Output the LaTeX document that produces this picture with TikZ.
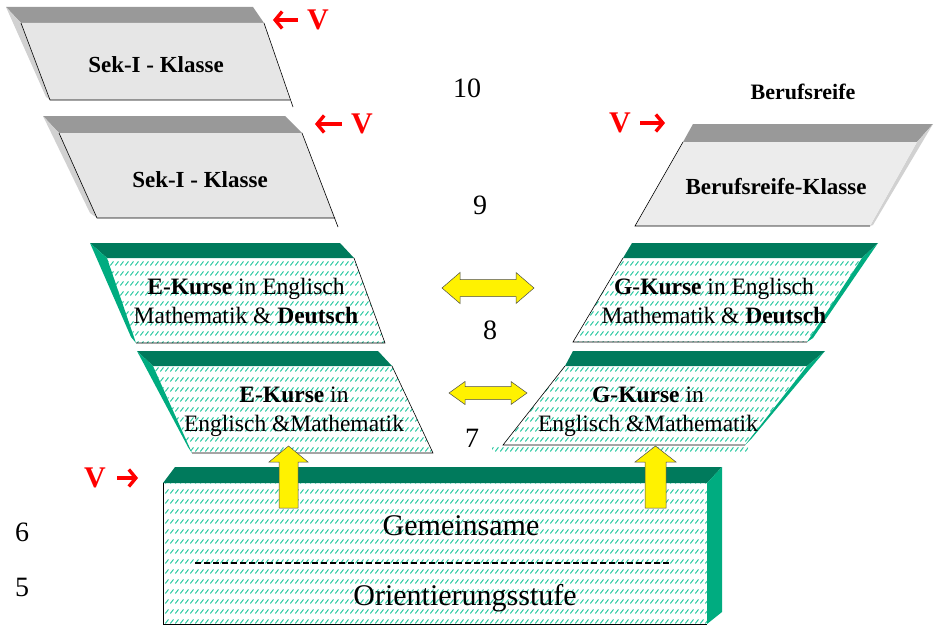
\documentclass[tikz,border=0pt]{standalone}
\usepackage{fontspec}
\setmainfont{Liberation Serif}
\usetikzlibrary{arrows.meta,patterns}

\definecolor{bandgruen}{RGB}{0,122,92}
\definecolor{seitengruen}{RGB}{0,172,128}
\definecolor{rastergruen}{RGB}{40,200,160}
\definecolor{steingrau}{RGB}{230,230,230}
\definecolor{marmorgrau}{RGB}{236,236,236}

\pgfdeclarepatternformonly{kursraster}{\pgfpointorigin}{\pgfqpoint{5pt}{9.6pt}}{\pgfqpoint{5pt}{9.6pt}}{%
  \pgfsetlinewidth{1.1pt}\pgfsetroundcap
  \pgfpathmoveto{\pgfqpoint{0.6pt}{2.8pt}}\pgfpathlineto{\pgfqpoint{4pt}{6.6pt}}\pgfusepath{stroke}}

\tikzset{
  band/.style={fill=bandgruen},
  seite/.style={fill=seitengruen},
  kurs/.style={pattern=kursraster,pattern color=rastergruen},
  grauband/.style={fill=black!40},
  grauseite/.style={fill=black!18},
  stein/.style={fill=steingrau},
  marmor/.style={fill=marmorgrau},
  kante/.style={draw=black,line width=0.6pt},
  gelb/.style={fill=yellow,draw=black!70,line width=0.5pt},
  kurstext/.style={align=center,font=\fontsize{23.5}{29}\selectfont},
  klassentext/.style={font=\bfseries\fontsize{23}{26}\selectfont},
  zahl/.style={font=\fontsize{28}{30}\selectfont},
  vmark/.style={text=red,inner sep=0pt,font=\bfseries\fontsize{30}{30}\selectfont},
  vpfeil/.style={draw=red,line width=3.4pt,-{Straight Barb[length=7pt,width=17pt]}}
}

\begin{document}
\begin{tikzpicture}[x=1pt,y=-1pt]
  \useasboundingbox (0,0) rectangle (937,626);

  % Sek-I oben
  \fill[grauband] (6,7) -- (253,7) -- (264,23) -- (21,23) -- cycle;
  \fill[grauseite] (6,7) -- (21,23) -- (50,100) -- (46,97) -- cycle;
  \fill[stein] (21,23) -- (264,23) -- (290,100) -- (50,100) -- cycle;
  \draw[kante] (21,23) -- (50,100) -- (290,100);
  \draw[kante] (264,23) -- (293,107);
  \node (sek1) at (156,65) [klassentext] {Sek-I - Klasse};

  % Sek-I unten
  \fill[grauband] (43,116) -- (285,116) -- (302,133) -- (59,133) -- cycle;
  \fill[grauseite] (43,116) -- (59,133) -- (97,218) -- (90,213) -- cycle;
  \fill[stein] (59,133) -- (302,133) -- (335,218) -- (97,218) -- cycle;
  \draw[kante] (59,133) -- (97,218) -- (335,218);
  \draw[kante] (302,133) -- (338,227);
  \node (sek2) at (200,180) [klassentext] {Sek-I - Klasse};

  % Berufsreife
  \fill[grauband] (693,124) -- (933,124) -- (917,142) -- (683,142) -- cycle;
  \fill[grauseite] (933,124) -- (917,142) -- (870,226) -- (873,225) -- cycle;
  \fill[marmor] (683,142) -- (917,142) -- (870,226) -- (635,226) -- cycle;
  \draw[kante] (683,142) -- (635,226) -- (870,226);
  \node (br) at (776,187) [klassentext] {Berufsreife-Klasse};
  \node (brtitel) at (803,92) [font=\bfseries\fontsize{22}{24}\selectfont] {Berufsreife};

  % E-Kurse Klasse 8
  \fill[band] (90,243) -- (340,243) -- (354,258) -- (107,258) -- cycle;
  \fill[seite] (90,243) -- (107,258) -- (136,343) -- (131,337) -- cycle;
  \fill[kurs] (107,258) -- (354,258) -- (385,343) -- (136,343) -- cycle;
  \draw[kante] (354,258) -- (385,343) -- (136,343);
  \node (e8) at (246,301) [kurstext] {\textbf{E-Kurse} in Englisch\\Mathematik \& \textbf{Deutsch}};

  % E-Kurse Klasse 7
  \fill[band] (137,351) -- (378,351) -- (392,366) -- (153,366) -- cycle;
  \fill[seite] (137,351) -- (153,366) -- (192,453) -- (188,447) -- cycle;
  \fill[kurs] (153,366) -- (392,366) -- (433,453) -- (192,453) -- cycle;
  \draw[kante] (392,366) -- (433,453) -- (192,453);
  \node (e7) at (294,412) [kurstext] {\textbf{E-Kurse} in\\Englisch \&Mathematik};

  % G-Kurse Klasse 8
  \fill[band] (632,243) -- (878,243) -- (862,258) -- (623,258) -- cycle;
  \fill[seite] (862,258) -- (878,243) -- (813,338) -- (807,342) -- cycle;
  \fill[kurs] (623,258) -- (862,258) -- (807,342) -- (573,342) -- cycle;
  \draw[kante] (623,258) -- (573,342) -- (807,342);
  \node (g8) at (714,301) [kurstext] {\textbf{G-Kurse} in Englisch\\Mathematik \& \textbf{Deutsch}};

  % G-Kurse Klasse 7
  \fill[band] (573,351) -- (825,351) -- (807,366) -- (565,366) -- cycle;
  \fill[seite] (807,366) -- (825,351) -- (752,438) -- (745,445) -- cycle;
  \fill[kurs] (565,366) -- (807,366) -- (745,445) -- (503,445) -- cycle;
  \fill[kurs] (492,446) rectangle (748,453);
  \draw[kante] (565,366) -- (503,445) -- (745,445);
  \node (g7) at (648,412) [kurstext] {\textbf{G-Kurse} in\\Englisch \&Mathematik};

  % Orientierungsstufe
  \fill[band] (163,483) -- (175,467) -- (722,467) -- (707,483) -- cycle;
  \fill[seite] (707,483) -- (722,467) -- (722,612) -- (707,624) -- cycle;
  \fill[kurs] (163,483) rectangle (707,624);
  \draw[kante] (163,483) -- (163,624) -- (707,624);
  \node (gem) at (461,526) [font=\fontsize{30}{32}\selectfont] {Gemeinsame};
  \node (ost) at (465,598) [font=\fontsize{30}{32}\selectfont] {Orientierungsstufe};
  \draw[line width=1.4pt,dash pattern=on 6pt off 3pt] (195,563) -- (670,563);

  % Pfeile
  \draw[gelb] (279,508) -- (279,462) -- (269,462) -- (288.5,446) -- (308,462) -- (298,462) -- (298,508) -- cycle;
  \draw[gelb] (645,508) -- (645,462) -- (635,462) -- (655.5,446) -- (676,462) -- (666,462) -- (666,508) -- cycle;
  \draw[gelb] (442,288) -- (460,272.5) -- (460,279.5) -- (516,279.5) -- (516,272.5) -- (534,288)
    -- (516,303.5) -- (516,296.5) -- (460,296.5) -- (460,303.5) -- cycle;
  \draw[gelb] (449,393) -- (465,381.5) -- (465,386.5) -- (511,386.5) -- (511,381.5) -- (527,393)
    -- (511,404.5) -- (511,399.5) -- (465,399.5) -- (465,404.5) -- cycle;

  % Klassenstufen
  \node (k10) at (467,88) [zahl] {10};
  \node (k9) at (480,205) [zahl] {9};
  \node (k8) at (490,330) [zahl] {8};
  \node (k7) at (472,438) [zahl] {7};
  \node (k6) at (22,532) [zahl] {6};
  \node (k5) at (22,587) [zahl] {5};

  % Versetzung
  \node (v1) at (318,20) [vmark] {V};
  \draw[vpfeil] ([xshift=-9pt]v1.west) -- ++(-25,0);
  \node (v2) at (362,124) [vmark] {V};
  \draw[vpfeil] ([xshift=-9pt]v2.west) -- ++(-27,0);
  \node (v3) at (620,123) [vmark] {V};
  \draw[vpfeil] ([xshift=9pt]v3.east) -- ++(25,0);
  \node (v4) at (95,478) [vmark] {V};
  \draw[vpfeil] ([xshift=11pt]v4.east) -- ++(21,0);
\end{tikzpicture}
\end{document}
